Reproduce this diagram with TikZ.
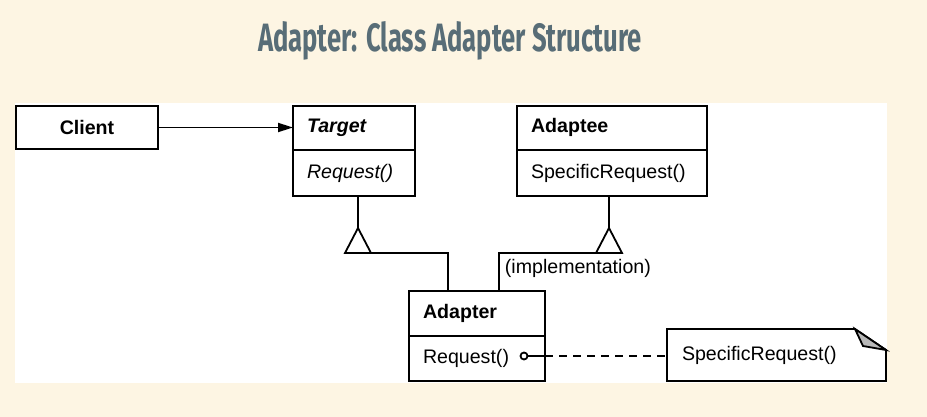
\documentclass[tikz,border=0pt]{standalone}
\usepackage{fontspec}
\setmainfont{Liberation Sans}
\newfontfamily\titlefont{Fira Sans}
\usepackage{graphicx}
\usetikzlibrary{arrows.meta,calc,positioning}

\definecolor{cream}{HTML}{FDF5E3}
\definecolor{slate}{HTML}{586D77}
\newcommand{\fsz}{\fontsize{9.8}{11.5}\selectfont}

\begin{document}
\begin{tikzpicture}[x=0.5pt, y=-0.5pt, line width=0.9pt,
    box/.style={draw, anchor=north west, inner xsep=7pt, inner ysep=0pt, outer sep=0pt,
        text width=#1, align=left, text height=7.2pt, text depth=2.2pt},
    head/.style={font=\fsz\bfseries},
    op/.style={font=\fsz},
    gen/.style={line width=0.9pt}]
    % Page and white panel
    \fill[cream] (0,0) rectangle (927,417);
    \useasboundingbox (0,0) rectangle (927,417);
    \fill[white] (15,103) rectangle (887,383);

    % Title
    \node[anchor=base, text=slate, font=\titlefont\bfseries] (title) at (450,52)
        {\resizebox{192pt}{15pt}{Adapter: Class Adapter Structure}};

    % Client
    \node[draw, anchor=north west, minimum width=71pt, minimum height=21.5pt,
        inner sep=0pt, outer sep=0pt, head] (client) at (16,106) {Client};

    % Target (abstract)
    \node[box=47pt, minimum height=22pt, font=\fsz\bfseries\itshape] (targethead) at (293,106) {Target};
    \node[box=47pt, minimum height=23pt, font=\fsz\itshape] (targetbody) at (targethead.south west) {Request()};

    % Adaptee
    \node[box=81pt, minimum height=22pt, head] (adapteehead) at (517,106) {Adaptee};
    \node[box=81pt, minimum height=23pt, op] (adapteebody) at (adapteehead.south west) {SpecificRequest()};

    % Adapter
    \node[box=54pt, minimum height=22.5pt, head] (adapterhead) at (409,291) {Adapter};
    \node[box=54pt, minimum height=22.5pt, op] (adapterbody) at (adapterhead.south west) {Request()};

    % Note with implementation
    \node[anchor=north west, minimum width=109.5pt, minimum height=26pt, inner xsep=7.5pt,
        outer sep=0pt, text width=94.5pt, align=left, op] (note) at (667,329) {SpecificRequest()};
    \draw (note.north west) -- (855,329) -- (886,350) -- (note.south east) -- (note.south west) -- cycle;
    \filldraw[fill=gray!55] (855,329) -- (863,346) -- (886,350) -- cycle;

    % Client uses Target
    \draw[-{Triangle[length=7.5pt,width=4.5pt]}] (client.east) -- (client.east -| targethead.west);

    % Adapter inherits Target
    \coordinate (tgapex) at (358,228);
    \draw (tgapex |- targetbody.south) -- (tgapex);
    \draw[gen] (tgapex) -- ++(-13,25) -- ++(26,0) -- cycle;
    \draw ($(tgapex)+(13,25)$) -| ($(adapterhead.north west)+(39,0)$);

    % Adapter inherits Adaptee (implementation)
    \coordinate (adapex) at (609,228);
    \draw (adapex |- adapteebody.south) -- (adapex);
    \draw[gen] (adapex) -- ++(-13,25) -- ++(26,0) -- cycle;
    \draw ($(adapex)+(-13,25)$) -| ($(adapterhead.north west)+(90,0)$);
    \node[anchor=west, op, inner sep=0pt] (impl) at (504,268) {(implementation)};

    % Request() calls SpecificRequest()
    \coordinate (opdot) at (524,356);
    \draw (opdot) circle[radius=3.5];
    \draw ($(opdot)+(3.5,0)$) -- (adapterbody.east |- opdot);
    \draw[dash pattern=on 4pt off 3pt] (adapterbody.east |- opdot) -- (note.west |- opdot);
\end{tikzpicture}
\end{document}
